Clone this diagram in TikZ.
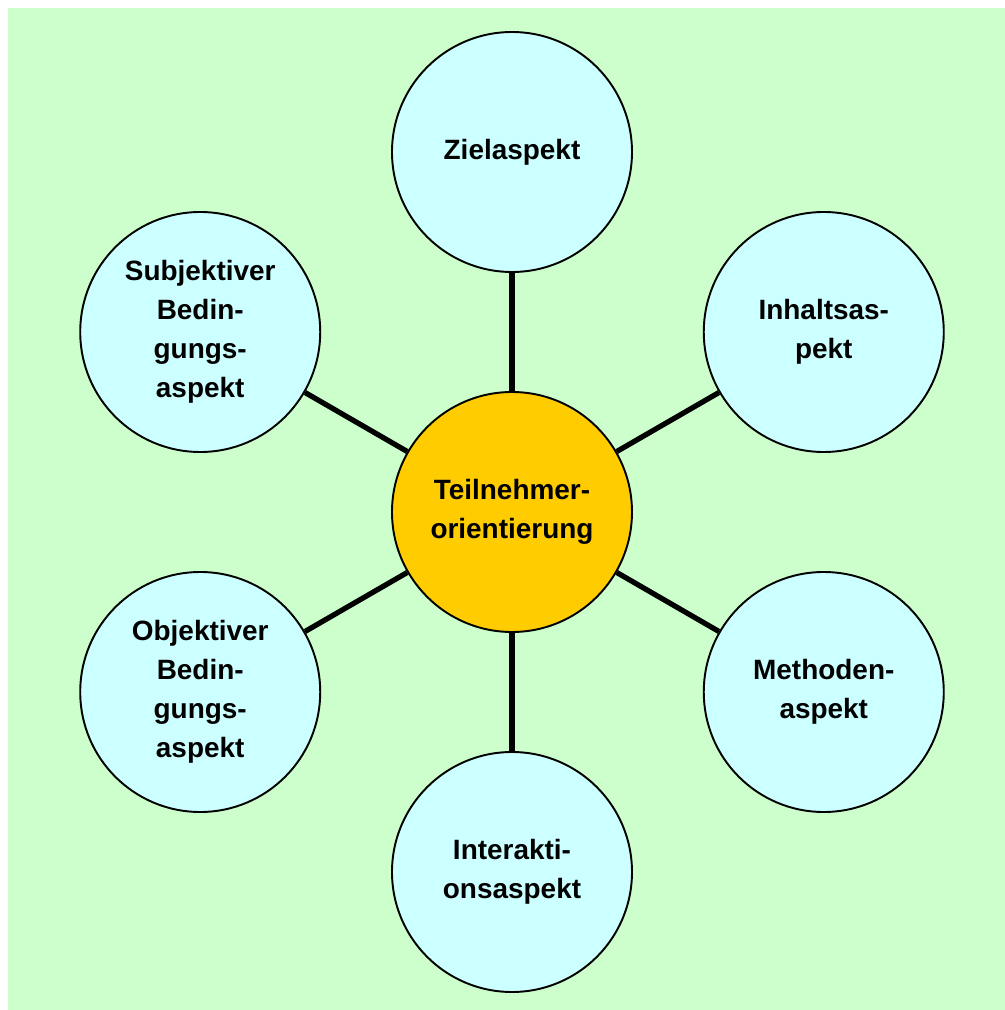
\documentclass[tikz,border=0pt]{standalone}
\usepackage{fontspec}
\setmainfont{Liberation Sans}
\usetikzlibrary{positioning}
\definecolor{bggreen}{HTML}{CCFFCC}
\definecolor{aspectcyan}{HTML}{CCFFFF}
\definecolor{kerngold}{HTML}{FFCC00}
\tikzset{
    aspect/.style={circle,draw=black,line width=1.1pt,fill=aspectcyan,minimum size=4.8cm,inner sep=0pt,align=center,font=\bfseries\fontsize{15.9}{22.2}\selectfont},
    kern/.style={aspect,fill=kerngold},
    speiche/.style={line width=3pt,black},
}

\begin{document}
\begin{tikzpicture}
\useasboundingbox (-10.24,-9.96) rectangle (9.84,10.24);
\fill[bggreen] (-10.08,-10.2) rectangle (10.1,10.08);
%\draw[gray] (0,0) circle (7.2);
\node[kern] (tn) at (0,0) {Teilnehmer-\\orientierung};
\node[aspect] (ziel) at (90:7.2) {Zielaspekt};
\node[aspect] (inhalt) at (30:7.2) {Inhaltsas-\\pekt};
\node[aspect] (methode) at (-30:7.2) {Methoden-\\aspekt};
\node[aspect] (interakt) at (-90:7.2) {Interakti-\\onsaspekt};
\node[aspect] (objektiv) at (-150:7.2) {Objektiver\\Bedin-\\gungs-\\aspekt};
\node[aspect] (subjektiv) at (150:7.2) {Subjektiver\\Bedin-\\gungs-\\aspekt};
\foreach \n in {ziel,inhalt,methode,interakt,objektiv,subjektiv}
    \draw[speiche] (tn) -- (\n);
\end{tikzpicture}
\end{document}
